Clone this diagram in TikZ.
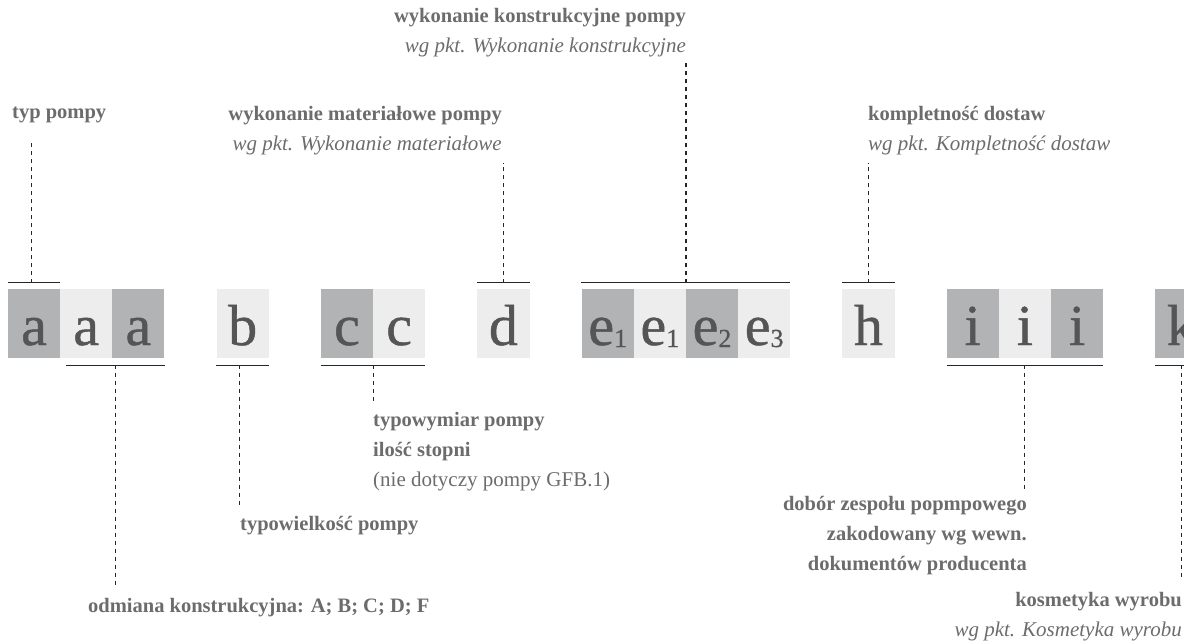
\documentclass[tikz,border=0pt]{standalone}
\usepackage{fontspec}
\setmainfont{Liberation Serif}
\newfontfamily\codefont[FakeBold=0.8]{Liberation Serif}
\usetikzlibrary{positioning,calc}
\definecolor{boxdark}{HTML}{B2B3B4}
\definecolor{boxlight}{HTML}{ECEDEC}
\definecolor{lettergray}{HTML}{555555}
\definecolor{labelgray}{HTML}{6C6C6C}
\newcommand\idx[1]{\raisebox{-2pt}{\fontsize{26}{26}\selectfont#1}}
\tikzset{
  codebox/.style={minimum width=52.15pt, inner sep=0pt, text height=56pt, text depth=13pt,
    font=\codefont\fontsize{58}{58}\selectfont, text=lettergray},
  dark/.style={codebox, fill=boxdark},
  light/.style={codebox, fill=boxlight},
  bracket/.style={black!85, line width=1.2pt},
  lead/.style={black!85, line width=1.1pt, dash pattern=on 4pt off 4pt},
  desc/.style={inner sep=0pt, text=labelgray, font=\fontsize{20.5}{30}\selectfont\bfseries}
}
\begin{document}
\begin{tikzpicture}[x=1pt,y=-1pt]
\useasboundingbox (0,0) rectangle (1184,642);
\foreach \n/\i/\s/\t in {a1/0/dark/a, a2/1/light/a, a3/2/dark/a, b1/4/light/b,
    c1/6/dark/c, c2/7/light/c, d1/9/light/d,
    e1/11/dark/e\idx{1}, e2/12/light/e\idx{1}, e3/13/dark/e\idx{2}, e4/14/light/e\idx{3},
    h1/16/light/h, i1/18/dark/i, i2/19/light/i, i3/20/dark/i, k1/22/dark/k}
  \node[\s] (\n) at ({8+52.15*(\i+0.5)},323.5) {\t};

\node[desc, anchor=base west] (typ) at (12,118) {typ pompy};
\node[desc, anchor=base east, align=right] (mat) at (502,150)
  {wykonanie materiałowe pompy\\{\fontsize{21}{30}\selectfont\mdseries\itshape wg pkt. Wykonanie materiałowe}};
\node[desc, anchor=base east, align=right] (kon) at (686,53)
  {wykonanie konstrukcyjne pompy\\{\fontsize{21}{30}\selectfont\mdseries\itshape wg pkt. Wykonanie konstrukcyjne}};
\node[desc, anchor=base west, align=left] (kom) at (868,150)
  {kompletność dostaw\\{\fontsize{21}{30}\selectfont\mdseries\itshape wg pkt. Kompletność dostaw}};
\node[desc, anchor=base west] (odm) at (88,612) {odmiana konstrukcyjna: A; B; C; D; F};
\node[desc, anchor=base west] (wlk) at (240,530) {typowielkość pompy};
\node[desc, anchor=base west, align=left] (wym) at (373,486)
  {typowymiar pompy\\ilość stopni\\{\fontsize{21}{30}\selectfont\mdseries (nie dotyczy pompy GFB.1)}};
\node[desc, anchor=base east, align=right] (dob) at (1027,570)
  {dobór zespołu popmpowego\\zakodowany wg wewn.\\dokumentów producenta};
\node[desc, anchor=base east, align=right] (kos) at (1182,636)
  {kosmetyka wyrobu\\{\fontsize{21}{30}\selectfont\mdseries\itshape wg pkt. Kosmetyka wyrobu}};

\draw[bracket] ([yshift=6pt]a1.north west) -- ([yshift=6pt]a1.north east);
\coordinate (ta) at ([shift={(-3pt,6pt)}]a1.north);
\draw[bracket] ([yshift=6pt]d1.north west) -- ([yshift=6pt]d1.north east) coordinate[midway] (td);
\draw[bracket] ([yshift=6pt]e1.north west) -- ([yshift=6pt]e4.north east) coordinate[midway] (te);
\draw[bracket] ([yshift=6pt]h1.north west) -- ([yshift=6pt]h1.north east) coordinate[midway] (th);
\draw[bracket] ([shift={(6pt,-7pt)}]a2.south west) -- ([yshift=-7pt]a3.south east) coordinate[midway] (ba);
\draw[bracket] ([yshift=-7pt]b1.south west) -- ([yshift=-7pt]b1.south east);
\coordinate (bb) at ([shift={(-3pt,-7pt)}]b1.south);
\draw[bracket] ([yshift=-7pt]c1.south west) -- ([yshift=-7pt]c2.south east) coordinate[midway] (bc);
\draw[bracket] ([yshift=-7pt]i1.south west) -- ([yshift=-7pt]i3.south east) coordinate[midway] (bi);
\draw[bracket] ([yshift=-7pt]k1.south west) -- ([yshift=-7pt]k1.south east);
\coordinate (bk) at ([yshift=-7pt]k1.south);

\draw[lead] (ta) -- ([yshift=-20pt]typ.south -| ta);
\draw[lead] (td) -- ([yshift=-8pt]mat.south -| td);
\draw[lead] (te) -- ([yshift=-4pt]kon.south -| te);
\draw[lead] (th) -- ([yshift=-8pt]kom.south -| th);
\draw[lead] (ba) -- ([yshift=11pt]odm.north -| ba);
\draw[lead] (bb) -- ([yshift=8pt]wlk.north -| bb);
\draw[lead] (bc) -- ([yshift=8pt]wym.north -| bc);
\draw[lead] (bi) -- ([yshift=6pt]dob.north -| bi);
\draw[lead] (bk) -- ([yshift=12pt]kos.north -| bk);
\end{tikzpicture}
\end{document}
